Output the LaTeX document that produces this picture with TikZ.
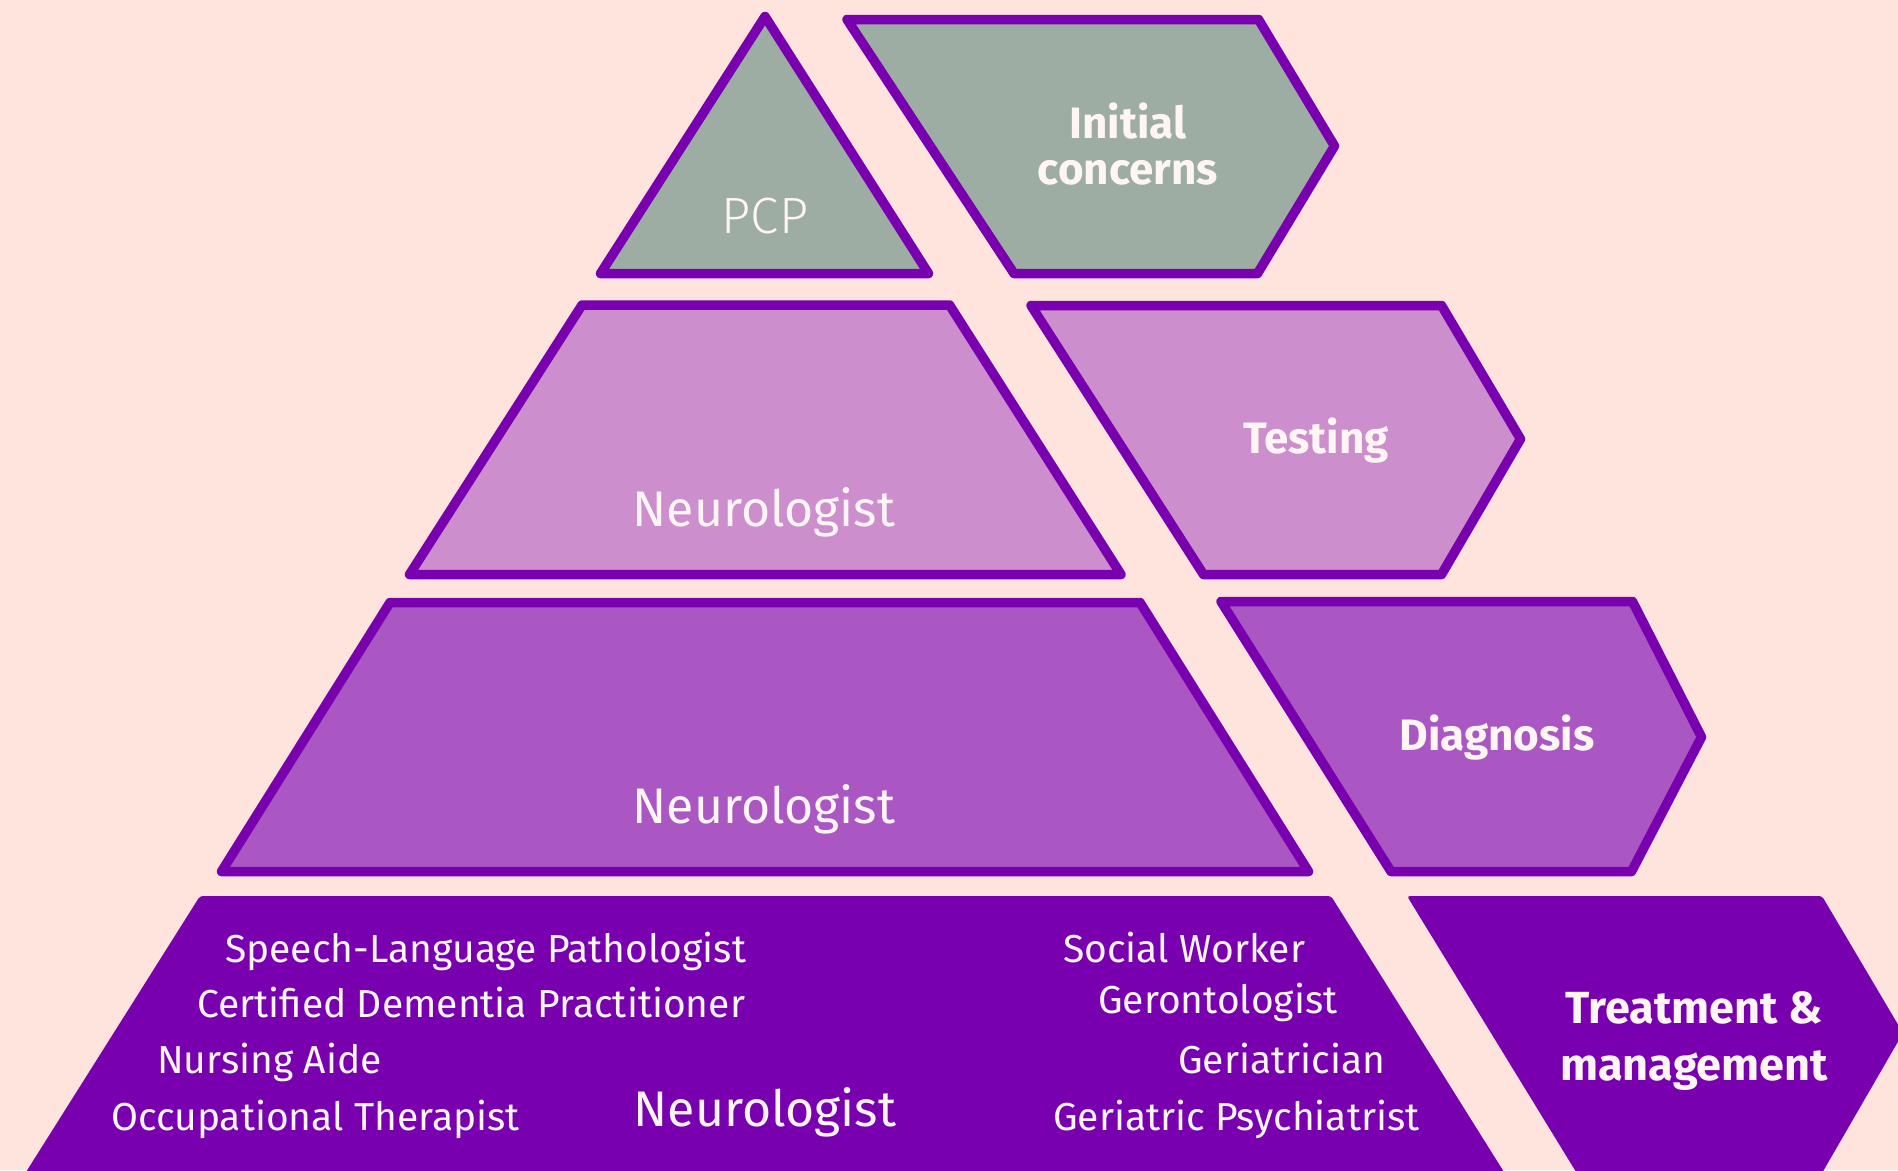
\documentclass[tikz,border=0pt]{standalone}
\usepackage{fontspec}
\setmainfont{Fira Sans}
\newfontfamily\lightfont{Fira Sans Light}
\definecolor{bgpink}{RGB}{255,228,222}
\definecolor{sage}{RGB}{158,173,163}
\definecolor{lilac}{RGB}{204,142,204}
\definecolor{orchid}{RGB}{171,87,195}
\definecolor{deep}{RGB}{120,0,175}
\definecolor{paper}{RGB}{255,246,243}
\begin{document}
\begin{tikzpicture}[x=1pt,y=-1pt,
  tier/.style={draw=deep, line width=9.5pt, line join=round},
  lbl/.style={text=paper, inner sep=0pt, anchor=base},
  big/.style={lbl, font=\fontsize{50}{60}\selectfont},
  small/.style={lbl, font=\fontsize{39}{47}\selectfont},
  head/.style={lbl, font=\fontsize{44}{53}\selectfont\bfseries},
  west/.style={anchor=base west}]
\fill[bgpink] (0,0) rectangle (1898,1170);
\useasboundingbox (0,0) rectangle (1898,1170);

% level 1: primary care
\filldraw[tier, fill=sage] (765,16.5) -- (928.5,273.5) -- (600.5,273.5) -- cycle;
\filldraw[tier, fill=sage] (847,19.5) -- (1258.5,19.5) -- (1334.5,146) -- (1257.5,273.5) -- (1014,273.5) -- cycle;
\node[lbl, font=\fontsize{51}{60}\lightfont] (pcp) at (765,233) {PCP};
\node[head] (initA) at (1128,138) {Initial};
\node[head] (initB) at (1128,184) {concerns};

% level 2: testing
\filldraw[tier, fill=lilac] (582,305) -- (949.5,305) -- (1121,574.5) -- (409.5,574.5) -- cycle;
\filldraw[tier, fill=lilac] (1031,305.5) -- (1441.5,305.5) -- (1520.5,439) -- (1441.5,574.5) -- (1203.5,574.5) -- cycle;
\node[big] (neuroB) at (764,526) {Neurologist};
\node[head] (testing) at (1316,453) {Testing};

% level 3: diagnosis
\filldraw[tier, fill=orchid] (390,602.5) -- (1140,602.5) -- (1308.5,871.5) -- (221.5,871.5) -- cycle;
\filldraw[tier, fill=orchid] (1221,601.5) -- (1632.5,601.5) -- (1701.5,737) -- (1631.5,871.5) -- (1391,871.5) -- cycle;
\node[big] (neuroC) at (764,823) {Neurologist};
\node[head] (diag) at (1497,750) {Diagnosis};

% level 4: treatment and the care team
\begin{scope}
\clip (0,0) rectangle (1898,1170);
\fill[deep, rounded corners=3pt] (200,896) -- (1331,896) -- (1509,1180) -- (21,1180) -- cycle;
\fill[deep, rounded corners=3pt] (1407,896) -- (1822,896) -- (1903,1033) -- (1818,1180) -- (1581,1180) -- cycle;
\end{scope}
\node[big] (neuroD) at (765,1126) {Neurologist};
\node[small, west] (slp) at (225,962) {Speech-Language Pathologist};
\node[small, west] (cdp) at (197,1017) {Certified Dementia Practitioner};
\node[small, west] (aide) at (157,1073) {Nursing Aide};
\node[small, west] (ot) at (111,1130) {Occupational Therapist};
\node[small, west] (sw) at (1063,962) {Social Worker};
\node[small, west] (geront) at (1098,1013) {Gerontologist};
\node[small, west] (geriat) at (1178,1073) {Geriatrician};
\node[small, west] (psych) at (1053,1130) {Geriatric Psychiatrist};
\node[head, font=\fontsize{45}{54}\selectfont\bfseries] (treatA) at (1694,1023) {Treatment \&};
\node[head, font=\fontsize{45}{54}\selectfont\bfseries] (treatB) at (1694,1080) {management};
\end{tikzpicture}
\end{document}
